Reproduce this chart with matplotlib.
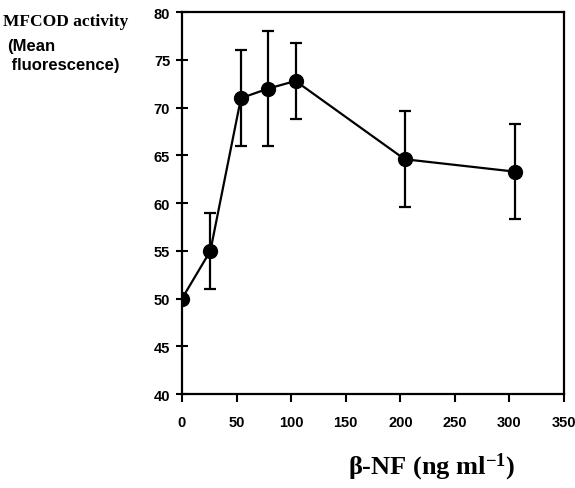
import matplotlib.pyplot as plt

# values
dose = [0, 26, 54, 79, 104, 204, 305]
activity = [50.0, 55.0, 71.0, 72.0, 72.8, 64.6, 63.3]
err = [0.0, 4.0, 5.0, 6.0, 4.0, 5.0, 5.0]
x_ticks = [0, 50, 100, 150, 200, 250, 300, 350]
y_ticks = [40, 45, 50, 55, 60, 65, 70, 75, 80]

plt.rcParams['mathtext.fontset'] = 'custom'
plt.rcParams['mathtext.rm'] = 'Liberation Serif:bold'
plt.rcParams['mathtext.default'] = 'rm'

fig = plt.figure(figsize=(5.75, 4.89), dpi=100)
ax = fig.add_axes([0.3165, 0.192, 0.6645, 0.781])

ax.errorbar(dose, activity, yerr=err, fmt='-o', color='black', lw=1.6,
            markersize=10, elinewidth=1.6, capsize=4, capthick=1.6)

ax.set_xlim(0, 350)
ax.set_ylim(40, 80)
ax.set_xticks(x_ticks)
ax.set_yticks(y_ticks)

for s in ax.spines.values():
    s.set_linewidth(1.6)

ax.tick_params(axis='y', direction='inout', length=9, width=1.5, pad=4)
ax.tick_params(axis='x', direction='out', length=6, width=1.5, pad=9)
for lab in ax.get_xticklabels() + ax.get_yticklabels():
    lab.set_family('Liberation Sans')
    lab.set_fontweight('bold')
    lab.set_fontsize(10.5)

fig.text(0.005, 0.955, 'MFCOD activity', family='Liberation Serif',
         fontweight='bold', fontsize=12.5, va='center', ha='left')
fig.text(0.012, 0.92, '(Mean\n fluorescence)', family='Liberation Sans',
         fontweight='bold', fontsize=12, va='top', ha='left', linespacing=1.35)

fig.text(0.751, 0.045, r'β-NF (ng ml$^{-1}$)', family='Liberation Serif',
         fontweight='bold', fontsize=19, ha='center', va='center')

fig.savefig('out.png', dpi=100)
